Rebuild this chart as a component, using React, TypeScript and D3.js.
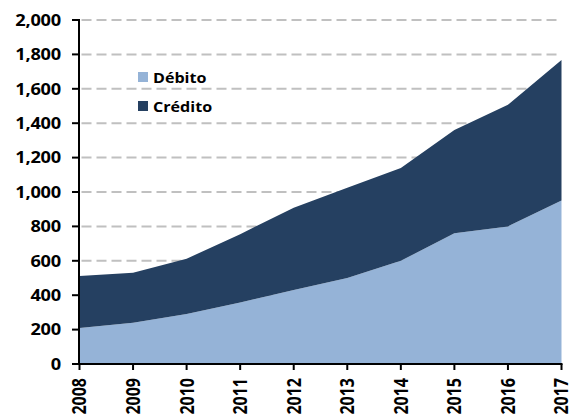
import React from "react";
import * as d3 from "d3";

const years = [2008, 2009, 2010, 2011, 2012, 2013, 2014, 2015, 2016, 2017];
const debito = [210, 240, 290, 358, 430, 500, 600, 760, 800, 950];
const credito = [302, 291, 322, 397, 478, 525, 540, 600, 707, 818];
const yTicks = [0, 200, 400, 600, 800, 1000, 1200, 1400, 1600, 1800, 2000];
const seriesNames = ["Débito", "Crédito"];
const colors = ["#95b3d7", "#254061"];

const W = 570, H = 419;
const FONT = "'Open Sans', Lato, sans-serif";

export default function App() {
  const x = d3.scaleLinear().domain([2008, 2017]).range([79.5, 561.5]);
  const y = d3.scaleLinear().domain([0, 2000]).range([364, 20]);

  const rows = years.map((yr, i) => ({ year: yr, d: debito[i], c: credito[i] }));
  const stack = d3.stack<any>().keys(["d", "c"])(rows);
  const area = d3
    .area<any>()
    .x((p) => x(p.data.year))
    .y0((p) => y(p[0]))
    .y1((p) => y(p[1]));

  const fmt = d3.format(",");

  return (
    <svg width={W} height={H} style={{ position: "absolute", left: 0, top: 0, background: "#fff" }}>
      {/* gridlines */}
      {yTicks.filter((t) => t > 0).map((t) => (
        <line key={"g" + t} x1={81.5} x2={557} y1={y(t)} y2={y(t)} stroke="#c0c0c0" strokeWidth={2} strokeDasharray="10,5" />
      ))}
      {/* areas */}
      {stack.map((s, i) => (
        <path key={i} d={area(s) as string} fill={colors[i]} />
      ))}
      {/* y axis */}
      <line x1={79} x2={79} y1={19} y2={365} stroke="#000" strokeWidth={2} />
      {yTicks.map((t) => (
        <g key={"yt" + t}>
          <line x1={72} x2={79} y1={y(t)} y2={y(t)} stroke="#000" strokeWidth={2} />
          <g transform={`translate(61,${y(t)}) scale(1.14,1)`}>
            <text x={0} y={0} dy="0.36em" textAnchor="end" fontFamily={FONT} fontWeight="bold" fontSize={16} letterSpacing={-0.2} fill="#000">
              {fmt(t)}
            </text>
          </g>
        </g>
      ))}
      {/* x axis */}
      <line x1={78} x2={562.5} y1={364} y2={364} stroke="#000" strokeWidth={2} />
      {years.map((yr) => (
        <g key={"xt" + yr}>
          <line x1={x(yr)} x2={x(yr)} y1={364} y2={370} stroke="#000" strokeWidth={2} />
          <g transform={`translate(${x(yr)},378) scale(1.2,1) rotate(-90)`}>
            <text x={0} y={0} dy="0.36em" textAnchor="end" fontFamily={FONT} fontWeight="bold" fontSize={16} fill="#000">
              {yr}
            </text>
          </g>
        </g>
      ))}
      {/* legend */}
      {seriesNames.map((n, i) => (
        <g key={"lg" + n}>
          <rect x={138} y={72 + i * 29} width={10} height={10} fill={colors[i]} />
          <g transform={`translate(153,${82.7 + i * 29.3}) scale(1.15,1)`}>
            <text x={0} y={0} fontFamily={FONT} fontWeight="bold" fontSize={14} fill="#000">
              {n}
            </text>
          </g>
        </g>
      ))}
    </svg>
  );
}
